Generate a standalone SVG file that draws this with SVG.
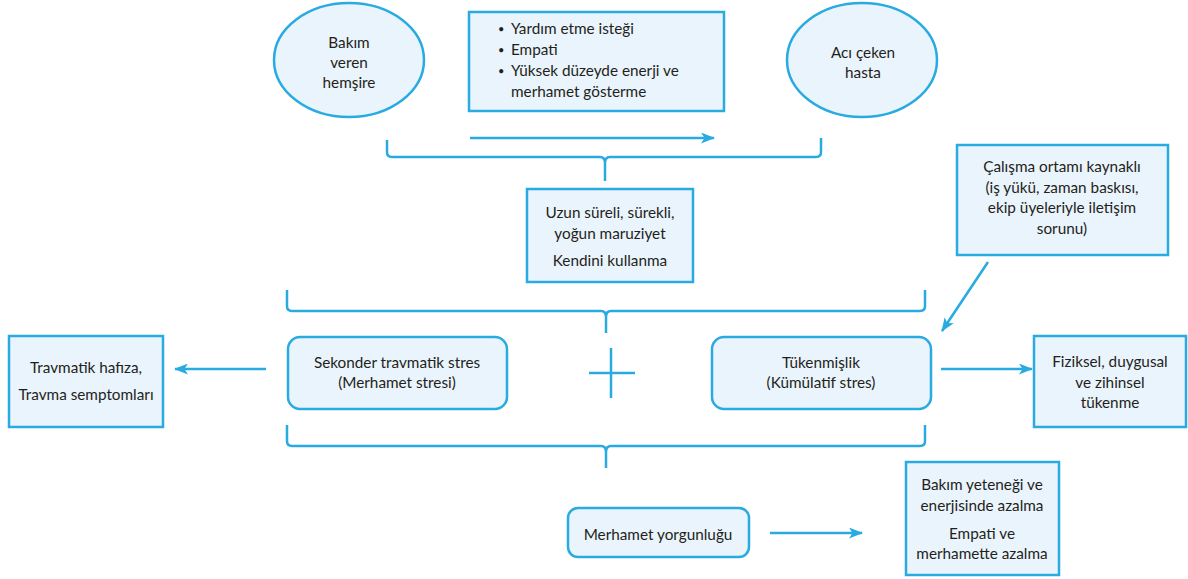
<svg xmlns="http://www.w3.org/2000/svg" width="1188" height="579" viewBox="0 0 1188 579">
<style>
.n{fill:#eaf4fc;stroke:#29abe2;stroke-width:2.5}
.c{fill:none;stroke:#29abe2;stroke-width:2.5}
text{font-family:Lato,"Open Sans","Liberation Sans",sans-serif;font-size:15.3px;fill:#231f20;text-anchor:middle}
text.l{text-anchor:start}
text.b{font-size:11px}
</style>
<defs>
<marker id="ah" viewBox="0 0 14 11" refX="13" refY="5.5" markerWidth="14" markerHeight="11" markerUnits="userSpaceOnUse" orient="auto">
<path d="M0,0 L14,5.5 L0,11 L3.5,5.5 Z" fill="#29abe2"/>
</marker>
</defs>
<rect width="1188" height="579" fill="#fff"/>
<g id="connectors">
<path class="c" d="M470,138 L714,138" marker-end="url(#ah)"/>
<path class="c" d="M387,140 L387,152 Q387,157 392,157 L600,157 Q605,157 605,163 L605,181 M605,163 Q605,157 610,157 L816,157 Q821,157 821,152 L821,138"/>
<path class="c" d="M287,290 L287,306 Q287,311 292,311 L601,311 Q606,311 606,317 L606,333 M606,317 Q606,311 611,311 L920,311 Q925,311 925,306 L925,290"/>
<path class="c" d="M287,425 L287,441 Q287,446 292,446 L601,446 Q606,446 606,452 L606,468 M606,452 Q606,446 611,446 L920,446 Q925,446 925,441 L925,425"/>
<path class="c" d="M988,262 L942,331" marker-end="url(#ah)"/>
<path class="c" d="M266,369 L175,369" marker-end="url(#ah)"/>
<path class="c" d="M941,369 L1032,369" marker-end="url(#ah)"/>
<path class="c" d="M770,533 L862,533" marker-end="url(#ah)"/>
<path class="c" d="M589,373 L635,373 M611,348 L611,398"/>
</g>
<g id="hemsire">
<ellipse class="n" cx="349" cy="60" rx="75" ry="57"/>
<text x="349" y="48">Bakım</text>
<text x="349" y="68">veren</text>
<text x="349" y="88">hemşire</text>
</g>
<g id="ozellikler">
<rect class="n" x="469" y="12" width="255" height="99"/>
<text class="l b" x="498" y="33">•</text><text class="l" x="511" y="34">Yardım etme isteği</text>
<text class="l b" x="498" y="54">•</text><text class="l" x="511" y="55">Empati</text>
<text class="l b" x="498" y="75">•</text><text class="l" x="511" y="76">Yüksek düzeyde enerji ve</text>
<text class="l" x="511" y="97">merhamet gösterme</text>
</g>
<g id="hasta">
<ellipse class="n" cx="862" cy="60" rx="75" ry="57"/>
<text x="863" y="58">Acı çeken</text>
<text x="863" y="78">hasta</text>
</g>
<g id="calisma">
<rect class="n" x="957" y="145" width="211" height="110"/>
<text x="1062" y="172">Çalışma ortamı kaynaklı</text>
<text x="1062" y="193">(iş yükü, zaman baskısı,</text>
<text x="1062" y="213">ekip üyeleriyle iletişim</text>
<text x="1062" y="234">sorunu)</text>
</g>
<g id="maruziyet">
<rect class="n" x="527" y="189" width="166" height="93"/>
<text x="610" y="218">Uzun süreli, sürekli,</text>
<text x="610" y="239">yoğun maruziyet</text>
<text x="610" y="266">Kendini kullanma</text>
</g>
<g id="travmatik">
<rect class="n" x="9" y="336" width="154" height="91"/>
<text x="86" y="373">Travmatik hafıza,</text>
<text x="86" y="400">Travma semptomları</text>
</g>
<g id="sekonder">
<rect class="n" x="288" y="337" width="219" height="72" rx="12"/>
<text x="397" y="368">Sekonder travmatik stres</text>
<text x="397" y="388">(Merhamet stresi)</text>
</g>
<g id="tukenmislik">
<rect class="n" x="712" y="337" width="219" height="72" rx="12"/>
<text x="821" y="368">Tükenmişlik</text>
<text x="821" y="388">(Kümülatif stres)</text>
</g>
<g id="fiziksel">
<rect class="n" x="1034" y="336" width="152" height="91"/>
<text x="1110" y="367">Fiziksel, duygusal</text>
<text x="1110" y="388">ve zihinsel</text>
<text x="1110" y="408">tükenme</text>
</g>
<g id="yorgunluk">
<rect class="n" x="568" y="508" width="181" height="49" rx="10"/>
<text x="658" y="540">Merhamet yorgunluğu</text>
</g>
<g id="azalma">
<rect class="n" x="906" y="462" width="153" height="113"/>
<text x="982" y="490">Bakım yeteneği ve</text>
<text x="982" y="511">enerjisinde azalma</text>
<text x="982" y="539">Empati ve</text>
<text x="982" y="559">merhamette azalma</text>
</g>
</svg>
